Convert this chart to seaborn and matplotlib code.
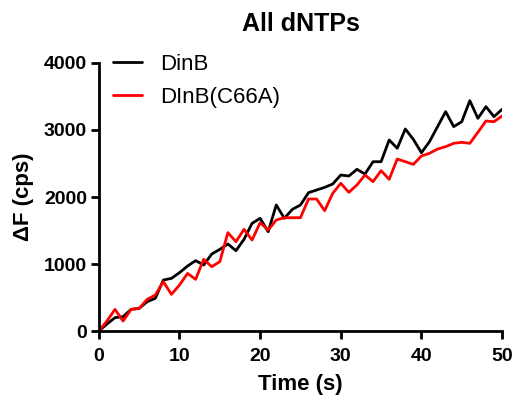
import matplotlib
matplotlib.use('Agg')
import matplotlib.pyplot as plt
import seaborn as sns
import pandas as pd

# time points (s)
time_s = list(range(0, 51))

# fluorescence change, wild type DinB
dinb = [0, 104, 199, 214, 323, 338, 438, 488, 761, 786,
        871, 970, 1050, 985, 1149, 1219, 1299, 1199, 1368, 1607,
        1682, 1482, 1881, 1682, 1816, 1881, 2065, 2104, 2144, 2194,
        2328, 2313, 2413, 2343, 2527, 2527, 2851, 2727, 3015, 2860,
        2661, 2826, 3050, 3274, 3050, 3124, 3438, 3174, 3348, 3199,
        3309]

# fluorescence change, DinB(C66A) mutant
dinb_c66a = [0, 149, 323, 149, 323, 338, 473, 537, 736, 547,
             686, 860, 771, 1070, 960, 1035, 1468, 1333, 1517, 1358,
             1617, 1507, 1657, 1691, 1691, 1691, 1970, 1970, 1796, 2055,
             2204, 2070, 2179, 2328, 2229, 2393, 2264, 2567, 2527, 2487,
             2612, 2652, 2716, 2751, 2801, 2816, 2801, 2965, 3134, 3124,
             3209]

series_names = ['DinB', 'DInB(C66A)']
series_colors = ['black', '#ff0000']

df = pd.concat([
    pd.DataFrame({'time': time_s, 'dF': dinb, 'protein': series_names[0]}),
    pd.DataFrame({'time': time_s, 'dF': dinb_c66a, 'protein': series_names[1]}),
])

sns.set_style('ticks')
plt.rcParams['font.family'] = ['Liberation Sans', 'DejaVu Sans']
plt.rcParams['text.color'] = 'black'
plt.rcParams['axes.labelcolor'] = 'black'
plt.rcParams['xtick.color'] = 'black'
plt.rcParams['ytick.color'] = 'black'

fig = plt.figure(figsize=(5.23, 4.13), dpi=100)
ax = fig.add_axes([0.189, 0.1985, 0.771, 0.649])

sns.lineplot(data=df, x='time', y='dF', hue='protein', hue_order=series_names,
             palette=series_colors, linewidth=2.0, ax=ax)

ax.set_xlim(0, 50)
ax.set_ylim(0, 4000)
ax.set_xticks([0, 10, 20, 30, 40, 50])
ax.set_yticks([0, 1000, 2000, 3000, 4000])
sns.despine(ax=ax)
for side in ['left', 'bottom']:
    ax.spines[side].set_linewidth(2.0)
    ax.spines[side].set_color('black')
ax.tick_params(width=2.0, length=5.5, labelsize=14)
ax.tick_params(axis='x', pad=6.5)
ax.tick_params(axis='y', pad=3)
for lab in ax.get_xticklabels() + ax.get_yticklabels():
    lab.set_fontweight('bold')

ax.set_xlabel('Time (s)', fontsize=16, fontweight='bold', labelpad=7)
ax.set_ylabel('ΔF (cps)', fontsize=16, fontweight='bold', labelpad=7)
ax.set_title('All dNTPs', fontsize=18, fontweight='bold', pad=23)

ax.legend(loc='upper left', bbox_to_anchor=(0.035, 1.034), frameon=False,
          borderpad=0, borderaxespad=0, fontsize=16, handlelength=1.3,
          handletextpad=0.8, labelspacing=0.55)

fig.savefig('out.png', dpi=100)
